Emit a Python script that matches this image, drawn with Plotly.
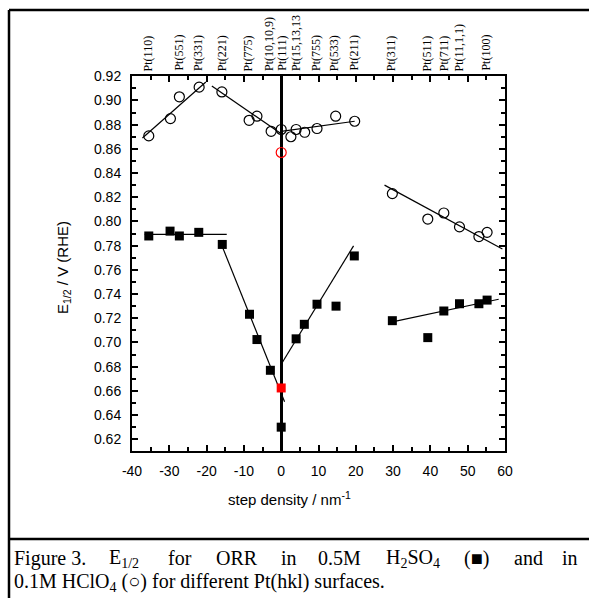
import plotly.graph_objects as go

# ---------------- data ----------------
# HClO4 (open circles)
circ_x = [-35.5, -29.7, -27.3, -22.0, -15.9, -8.6, -6.5, -2.7, 0.0, 2.6, 4.0, 6.3, 9.6, 14.6, 19.7,
          29.8, 39.3, 43.6, 47.8, 53.0, 55.2]
circ_y = [0.8707, 0.885, 0.903, 0.911, 0.907, 0.8836, 0.887, 0.8745, 0.876, 0.870, 0.876, 0.8737, 0.8768, 0.887, 0.8828,
          0.823, 0.802, 0.807, 0.7955, 0.7875, 0.791]
circ_red_x = [0.0]
circ_red_y = [0.857]

# H2SO4 (filled squares)
sq_x = [-35.5, -29.8, -27.3, -22.1, -15.8, -8.5, -6.5, -2.9, 0.0, 4.0, 6.2, 9.6, 14.7, 19.6,
        29.8, 39.3, 43.6, 47.8, 53.0, 55.2]
sq_y = [0.788, 0.792, 0.788, 0.791, 0.781, 0.7233, 0.7024, 0.677, 0.630, 0.703, 0.715, 0.7316, 0.730, 0.7715,
        0.718, 0.704, 0.726, 0.732, 0.732, 0.735]
sq_red_x = [0.0]
sq_red_y = [0.6624]

# fitted line segments (None separates segments)
fit_hclo4_x = [-37.2, -20.2, None, -18.6, 0.2, None, 0.0, 19.7, None, 27.7, 59.3]
fit_hclo4_y = [0.869, 0.9153, None, 0.912, 0.872, None, 0.8745, 0.8828, None, 0.830, 0.7773]
fit_h2so4_x = [-36.6, -14.6, None, -15.9, 0.9, None, 0.0, 19.4, None, 29.8, 58.3]
fit_h2so4_y = [0.7894, 0.7894, None, 0.780, 0.651, None, 0.682, 0.7798, None, 0.717, 0.7357]

# top surface labels
top_labels = ["Pt(110)", "Pt(551)", "Pt(331)", "Pt(221)", "Pt(775)", "Pt(10,10,9)", "Pt(111)",
              "Pt(15,13,13", "Pt(755)", "Pt(533)", "Pt(211)", "Pt(311)", "Pt(511)", "Pt(711)",
              "Pt(11,1,1)", "Pt(100)"]
top_pos = [-35.6, -27.5, -22.3, -15.8, -8.8, -3.3, 0.0, 4.0, 9.3, 14.2, 19.4, 29.5, 39.2, 43.7, 47.8, 54.8]

# bottom tick labels
x_tickvals = [-40, -30, -20, -10, 0, 10, 20, 30, 40, 50, 60]
x_ticktext = ["-40", "-30", "-20", "-10", "0", "10", "20", "30", "40", "50", "60"]

# caption words (first line is justified across the cell)
caption_line1_words = ["Figure 3.", "E<sub>1/2</sub>", "for", "ORR", "in", "0.5M",
                       "H<sub>2</sub>SO<sub>4</sub>", "(■)", "and", "in"]
caption_line1_px = [12, 107, 166, 214, 279, 316, 384, 462, 512, 580]
caption_line2 = "0.1M HClO<sub>4</sub> (○) for different Pt(hkl) surfaces."

x_range = [-40, 60]
y_range = [0.6103, 0.9202]

SANS = "Liberation Sans, Arial, sans-serif"
SERIF = "Liberation Serif, Times New Roman, serif"

ML, MR, MT, MB = 132, 84, 76, 147
W, H = 589, 598
PW, PH = W - ML - MR, H - MT - MB


def px2paper_x(px):
    return (px - ML) / PW


def px2paper_y(py):
    return (H - MB - py) / PH


fig = go.Figure()

fig.add_trace(go.Scatter(x=fit_hclo4_x, y=fit_hclo4_y, mode="lines",
                         line=dict(color="black", width=1.2), showlegend=False, hoverinfo="skip"))
fig.add_trace(go.Scatter(x=fit_h2so4_x, y=fit_h2so4_y, mode="lines",
                         line=dict(color="black", width=1.2), showlegend=False, hoverinfo="skip"))

fig.add_trace(go.Scatter(x=circ_x, y=circ_y, mode="markers", showlegend=False,
                         marker=dict(symbol="circle-open", size=10, color="black", line=dict(width=1.2))))
fig.add_trace(go.Scatter(x=circ_red_x, y=circ_red_y, mode="markers", showlegend=False,
                         marker=dict(symbol="circle-open", size=10, color="red", line=dict(width=1.2))))
fig.add_trace(go.Scatter(x=sq_x, y=sq_y, mode="markers", showlegend=False,
                         marker=dict(symbol="square", size=9, color="black")))
fig.add_trace(go.Scatter(x=sq_red_x, y=sq_red_y, mode="markers", showlegend=False,
                         marker=dict(symbol="square", size=9, color="red")))

fig.update_layout(
    width=W, height=H,
    margin=dict(l=ML, r=MR, t=MT, b=MB),
    paper_bgcolor="white", plot_bgcolor="white",
    font=dict(family=SANS, color="black", size=14),
    xaxis=dict(range=x_range, tickmode="array", tickvals=x_tickvals, ticktext=x_ticktext,
               ticks="inside", ticklen=6, tickwidth=1.5, tickcolor="black",
               showline=True, linewidth=2, linecolor="black", mirror="allticks",
               showgrid=False, zeroline=True, zerolinewidth=2.5, zerolinecolor="black",
               tickfont=dict(family=SANS, size=14), ticklabelstandoff=6,
               minor=dict(dtick=5, tick0=0, ticks="inside", ticklen=4, tickwidth=1.5,
                          tickcolor="black", showgrid=False)),
    yaxis=dict(range=y_range, dtick=0.02, tick0=0.62, tickformat=".2f", ticks="inside", ticklen=6,
               tickwidth=1.5, tickcolor="black", showline=True, linewidth=2, linecolor="black",
               mirror="allticks", showgrid=False, zeroline=False,
               tickfont=dict(family=SANS, size=14), ticklabelstandoff=6,
               minor=dict(dtick=0.01, ticks="inside", ticklen=4, tickwidth=1.5,
                          tickcolor="black", showgrid=False)),
)

# top surface labels (rotated, above the top axis)
for lab, pos in zip(top_labels, top_pos):
    fig.add_annotation(text=lab, xref="x", yref="paper", x=pos, y=1, yshift=3,
                       textangle=-90, showarrow=False, xanchor="center", yanchor="bottom",
                       font=dict(family=SERIF, size=12))

# axis titles
fig.add_annotation(text="E<sub>1/2</sub> / V (RHE)", xref="paper", yref="paper",
                   x=px2paper_x(63), y=px2paper_y(268), textangle=-90, showarrow=False,
                   font=dict(family=SANS, size=15), xanchor="center", yanchor="middle")
fig.add_annotation(text="step density / nm<sup>-1</sup>", xref="paper", yref="paper",
                   x=px2paper_x(289), y=px2paper_y(498), showarrow=False,
                   font=dict(family=SANS, size=15), xanchor="center", yanchor="middle")

# caption
n_words = len(caption_line1_words)
for i, (word, px) in enumerate(zip(caption_line1_words, caption_line1_px)):
    fig.add_annotation(text=word, xref="paper", yref="paper", x=px2paper_x(px), y=px2paper_y(558),
                       showarrow=False, font=dict(family=SERIF, size=20),
                       xanchor="right" if i == n_words - 1 else "left", yanchor="middle")
fig.add_annotation(text=caption_line2, xref="paper", yref="paper", x=px2paper_x(12), y=px2paper_y(582),
                   showarrow=False, font=dict(family=SERIF, size=20), xanchor="left", yanchor="middle")

# frame lines
frame = dict(color="black", width=2.5)
fig.add_shape(type="line", xref="paper", yref="paper", x0=px2paper_x(9), x1=px2paper_x(9),
              y0=px2paper_y(600), y1=px2paper_y(10), line=frame)
fig.add_shape(type="line", xref="paper", yref="paper", x0=px2paper_x(9), x1=px2paper_x(592),
              y0=px2paper_y(10), y1=px2paper_y(10), line=frame)
fig.add_shape(type="line", xref="paper", yref="paper", x0=px2paper_x(9), x1=px2paper_x(592),
              y0=px2paper_y(539), y1=px2paper_y(539), line=frame)

fig.write_html("out.html", config={"displayModeBar": False},
               post_script="document.body.style.margin='0';document.body.style.overflow='hidden';")
